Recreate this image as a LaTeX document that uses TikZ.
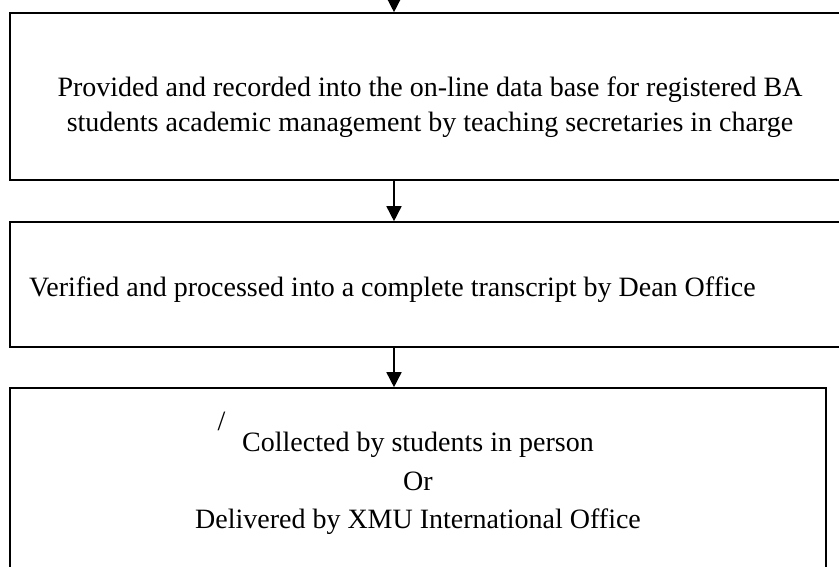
\documentclass[tikz,border=0pt]{standalone}
\usepackage{fontspec}
\setmainfont{Liberation Serif}
\usetikzlibrary{arrows.meta, positioning}

\begin{document}
\begin{tikzpicture}[
    x=1pt, y=-1pt,
    every node/.style={font=\fontsize{28}{34}\selectfont},
    stepbox/.style={draw, line width=1.6pt, inner sep=0pt},
    txt/.style={anchor=base, inner sep=0pt},
    flow/.style={line width=1.6pt, -{Triangle[length=15pt, width=15pt]}},
]
\useasboundingbox (0,0) rectangle (839,567);
\clip (0,0) rectangle (839,567);

% ---------------- boxes
\node[stepbox, minimum width=840pt, minimum height=167pt] (prov) at (430, 96.5) {};
\node[stepbox, minimum width=840pt, minimum height=125pt] (veri) at (430, 284.5) {};
\node[stepbox, minimum width=816pt, minimum height=200pt] (coll) at (418, 488) {};

% ---------------- texts
\node[txt] (prov1) at (430, 97) {Provided and recorded into the on-line data base for registered BA};
\node[txt] (prov2) at (430, 132) {students academic management by teaching secretaries in charge};
\node[txt, anchor=base west] (veri1) at (29, 297) {Verified and processed into a complete transcript by Dean Office};
\node[txt] (slash) at (221.5, 430) {/};
\node[txt] (coll1) at (418, 451) {Collected by students in person};
\node[txt] (coll2) at (418, 490) {Or};
\node[txt] (coll3) at (418, 528) {Delivered by XMU International Office};

% ---------------- arrows
\coordinate (top) at (394, -5);
\draw[flow] (top) -- (top |- prov.north);
\draw[flow] (prov.south -| 394, 0) -- (veri.north -| 394, 0);
\draw[flow] (veri.south -| 394, 0) -- (coll.north -| 394, 0);

\end{tikzpicture}
\end{document}
